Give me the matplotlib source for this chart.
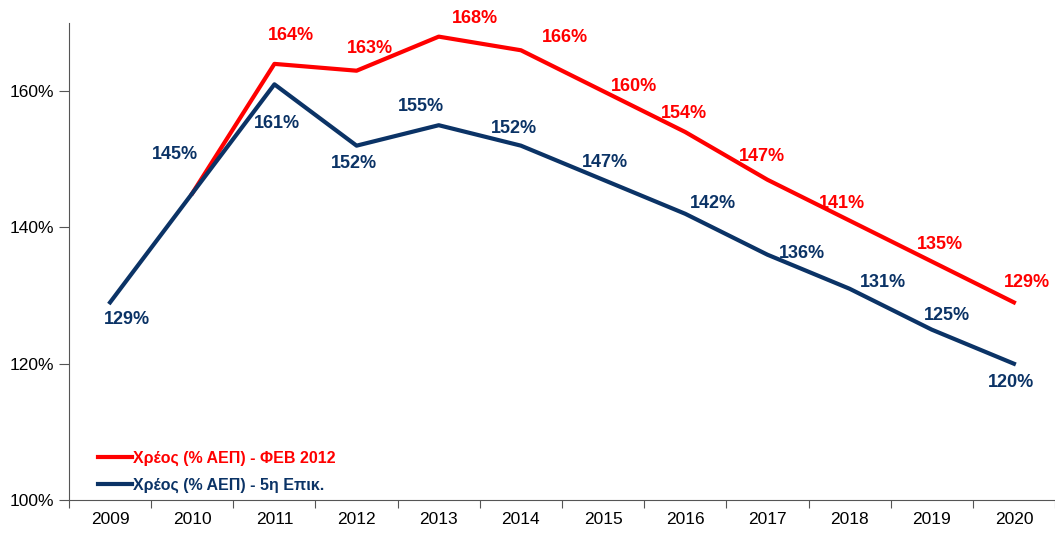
import matplotlib.pyplot as plt
import numpy as np

plt.rcParams['font.family'] = ['Liberation Sans', 'DejaVu Sans']

# Δεδομένα
years = ['2009', '2010', '2011', '2012', '2013', '2014', '2015', '2016', '2017', '2018', '2019', '2020']
debt_feb2012 = [np.nan, 145, 164, 163, 168, 166, 160, 154, 147, 141, 135, 129]
debt_5th = [129, 145, 161, 152, 155, 152, 147, 142, 136, 131, 125, 120]
label_feb = 'Χρέος (% ΑΕΠ) - ΦΕΒ 2012'
label_5th = 'Χρέος (% ΑΕΠ) - 5η Επικ.'

red = '#FF0000'
navy = '#0B3366'

# μετατοπίσεις ετικετών (pixels)
off_feb = [None, None, (17, 28), (13, 22), (36, 18), (44, 13), (31, 5), (-1, 19),
           (-5, 23), (-8, 17), (8, 17), (13, 20)]
off_5th = [(17, -17), (-17, 39), (3, -39), (-3, -18), (-18, 19), (-7, 17), (2, 17),
           (28, 10), (35, 1), (33, 6), (15, 14), (-3, -19)]

fig = plt.figure(figsize=(10.55, 5.38), dpi=100)
ax = fig.add_axes([69 / 1055, 38 / 538, 986 / 1055, 477 / 538])

x = np.arange(len(years))
ax.plot(x, debt_feb2012, color=red, linewidth=3, label=label_feb, zorder=2)
ax.plot(x, debt_5th, color=navy, linewidth=3, label=label_5th, zorder=3)

for i, v in enumerate(debt_feb2012):
    if off_feb[i] is not None:
        ax.annotate(f'{v:.0f}%', (x[i], v), xytext=off_feb[i], textcoords='offset pixels',
                    ha='center', va='center', color=red, fontsize=13, fontweight='bold')
for i, v in enumerate(debt_5th):
    ax.annotate(f'{v:.0f}%', (x[i], v), xytext=off_5th[i], textcoords='offset pixels',
                ha='center', va='center', color=navy, fontsize=13, fontweight='bold')

ax.set_ylim(100, 170)
ax.set_xlim(-0.5, 11.5 - 7 / 82.8)
ax.set_yticks([100, 120, 140, 160])
ax.set_yticklabels(['100%', '120%', '140%', '160%'], fontsize=12.5)
ax.set_xticks(np.arange(-0.5, 12, 1))
ax.set_xticklabels([])
ax.set_xticks(x, minor=True)
ax.set_xticklabels(years, minor=True, fontsize=12.5)
ax.tick_params(axis='x', which='major', length=6, color='#555555')
ax.tick_params(axis='x', which='minor', length=0, pad=9)
ax.tick_params(axis='y', length=7, color='#555555', pad=4)
for s in ['top', 'right']:
    ax.spines[s].set_visible(False)
for s in ['left', 'bottom']:
    ax.spines[s].set_color('#555555')

leg = ax.legend(loc='lower left', bbox_to_anchor=(98 / 1055, 45 / 538),
                bbox_transform=fig.transFigure, frameon=False,
                prop={'size': 11.5, 'weight': 'bold'}, handlelength=2.1,
                handletextpad=0.1, labelspacing=0.75, borderpad=0, borderaxespad=0,
                labelcolor='linecolor')

fig.savefig('out.png', dpi=100)
